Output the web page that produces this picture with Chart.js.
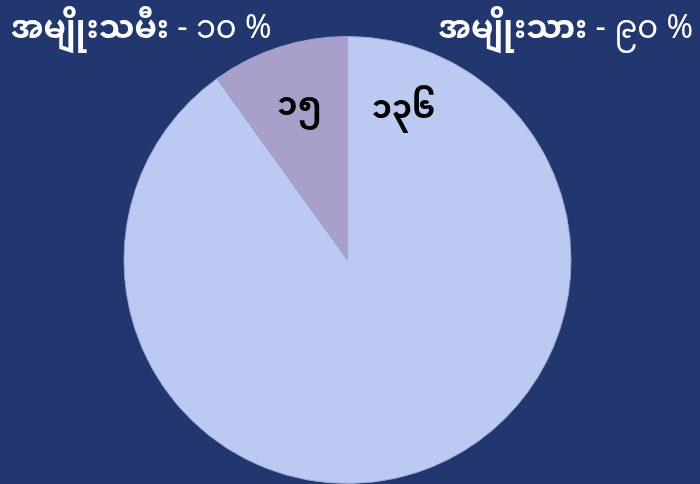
<!DOCTYPE html>
<html>
<head>
<meta charset="utf-8">
<script src="https://cdn.jsdelivr.net/npm/chart.js@4"></script>
<style>
  html, body { margin: 0; padding: 0; background: #22366f; }
  .wrap { position: relative; width: 700px; height: 484px; }
  .head {
    position: absolute; top: -4px; color: #ffffff; font-size: 32px;
    font-family: 'Noto Sans Myanmar', 'Padauk', 'Myanmar Text', 'Noto Sans', sans-serif;
    white-space: nowrap;
  }
  .head b { font-weight: 700; }
  #left { left: 11px; }
  #right { right: 7px; }
</style>
</head>
<body>
<div class="wrap">
  <canvas id="pieChart" width="700" height="484"></canvas>
  <div class="head" id="left"></div>
  <div class="head" id="right"></div>
</div>
<script>
// 성별 비율 (미얀마어)
const labels = ['အမျိုးသား', 'အမျိုးသမီး'];
const values = [136, 15];
const valueText = ['၁၃၆', '၁၅'];
const percentText = ['၉၀ %', '၁၀ %'];
const colors = ['#bccaf2', '#a89fca'];

document.getElementById('right').innerHTML = '<b>' + labels[0] + '</b> - ' + percentText[0];
document.getElementById('left').innerHTML = '<b>' + labels[1] + '</b> - ' + percentText[1];

// 조각 위 숫자 라벨
const sliceLabels = {
  id: 'sliceLabels',
  afterDatasetsDraw(chart) {
    const { ctx } = chart;
    const meta = chart.getDatasetMeta(0);
    ctx.save();
    ctx.fillStyle = '#000000';
    ctx.font = "bold 32px 'Noto Sans Myanmar', 'Padauk', 'Noto Sans', sans-serif";
    ctx.textAlign = 'center';
    ctx.textBaseline = 'middle';
    meta.data.forEach((arc, i) => {
      const { x, y, outerRadius, startAngle, endAngle } = arc.getProps(
        ['x', 'y', 'outerRadius', 'startAngle', 'endAngle'], true);
      // 큰 조각은 시작 부근, 작은 조각은 가운데
      const angle = i === 0 ? startAngle + 0.37 : (startAngle + endAngle) / 2;
      const r = outerRadius * 0.7;
      ctx.fillText(valueText[i], x + Math.cos(angle) * r, y + Math.sin(angle) * r);
    });
    ctx.restore();
  },
};

new Chart(document.getElementById('pieChart').getContext('2d'), {
  type: 'pie',
  data: {
    labels,
    datasets: [
      {
        data: values,
        backgroundColor: colors,
        borderColor: '#9aa5d4',
        borderWidth: 1,
      },
    ],
  },
  options: {
    responsive: false,
    animation: false,
    layout: { padding: { top: 36, bottom: 0, left: 0, right: 5 } },
    plugins: {
      legend: { display: false },
      tooltip: { enabled: false },
    },
  },
  plugins: [sliceLabels],
});
</script>
</body>
</html>
